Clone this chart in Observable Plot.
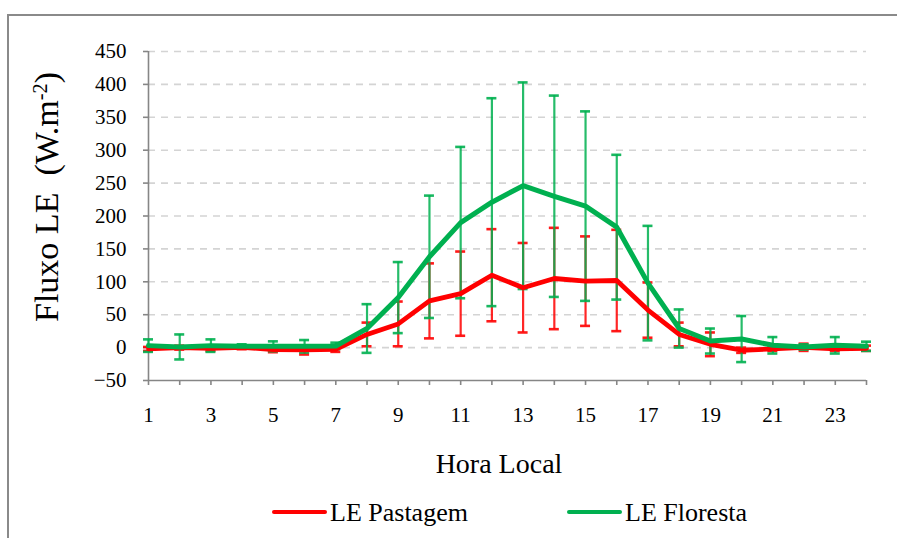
<!DOCTYPE html>
<html>
<head>
<meta charset="utf-8">
<script src="https://cdn.jsdelivr.net/npm/d3@7"></script>
<script src="https://cdn.jsdelivr.net/npm/@observablehq/plot@0.6"></script>
<style>
  html, body { margin: 0; padding: 0; background: #fff; }
  #wrap { position: relative; width: 897px; height: 538px; overflow: hidden; font-family: "Liberation Serif", "DejaVu Serif", serif; color: #000; }
  #wrap svg { position: absolute; left: 0; top: 0; }
  .border { position: absolute; left: 7px; top: 14px; width: 1000px; height: 1000px; border-left: 2px solid #8a8a8a; border-top: 2px solid #8a8a8a; }
  .ytitle { position: absolute; left: 47px; top: 197px; transform: translate(-50%, -50%) rotate(-90deg); white-space: nowrap; font-size: 34px; line-height: 1; }
  .ytitle sup { font-size: 0.6em; vertical-align: 0.55em; line-height: 0; }
  .xtitle { position: absolute; left: 499px; top: 449.6px; transform: translateX(-50%); white-space: nowrap; font-size: 28px; line-height: 1; }
  .leg-line { position: absolute; height: 4px; width: 55px; border-radius: 2px; }
  .leg-text { position: absolute; font-size: 26px; line-height: 1; white-space: nowrap; }
</style>
</head>
<body>
<div id="wrap"></div>
<script>
// ---- data ----
const hours = [1,2,3,4,5,6,7,8,9,10,11,12,13,14,15,16,17,18,19,20,21,22,23,24];
const pastagem    = [-2, 0, -1, 0.5, -3, -3.5, -2.5, 20, 36, 71, 82, 110, 91, 105, 101, 102, 57, 20, 5, -4, -2, 0.5, -2, -1];
const pastagemErr = [3, 3, 4, 3, 4, 7, 4, 18, 34, 57, 64, 70, 68, 77, 68, 77, 42, 18, 18, 4, 3, 5.5, 3, 4];
const floresta    = [3, 1, 3, 2, 2, 2, 2.5, 29, 76, 138, 190, 221, 246, 230, 215, 183, 98, 29, 10, 13, 3.5, 1, 3.5, 2];
const florestaErr = [9.5, 19, 9.5, 3, 7.5, 9.5, 5, 37, 54, 93, 115, 158, 157, 153, 144, 110, 87, 29, 19, 35, 12.5, 4, 12.5, 7];
const seriesNames = ["LE Pastagem", "LE Floresta"];
const seriesColors = ["#FF0000", "#00B050"];
const xTickLabels = hours.map(h => (h % 2 === 1 ? String(h) : ""));
const yTicks = [-50, 0, 50, 100, 150, 200, 250, 300, 350, 400, 450];
const xTitle = "Hora Local";

// ---- table ----
const rows = [];
hours.forEach((h, i) => {
  rows.push({series: seriesNames[0], hour: h, value: pastagem[i], err: pastagemErr[i]});
  rows.push({series: seriesNames[1], hour: h, value: floresta[i], err: florestaErr[i]});
});
const past = rows.filter(d => d.series === seriesNames[0]);
const flor = rows.filter(d => d.series === seriesNames[1]);

const cap = 0.16; // half-width of error-bar caps, in hours
function errMarks(data, color) {
  return [
    Plot.ruleX(data, {x: "hour", y1: d => d.value - d.err, y2: d => d.value + d.err, stroke: color, strokeWidth: 2.2, strokeOpacity: 0.85}),
    Plot.ruleY(data, {y: d => d.value + d.err, x1: d => d.hour - cap, x2: d => d.hour + cap, stroke: color, strokeWidth: 2.6, strokeOpacity: 0.9}),
    Plot.ruleY(data, {y: d => d.value - d.err, x1: d => d.hour - cap, x2: d => d.hour + cap, stroke: color, strokeWidth: 2.6, strokeOpacity: 0.9})
  ];
}

const axisColor = "#868686";
const chart = Plot.plot({
  width: 897,
  height: 538,
  marginLeft: 148,
  marginRight: 31,
  marginTop: 51,
  marginBottom: 158,
  style: {fontFamily: "'Liberation Serif', 'DejaVu Serif', serif", fontSize: "21px", color: "#000", background: "transparent", overflow: "visible"},
  x: {type: "linear", domain: [1, 24], label: null},
  y: {type: "linear", domain: [-50, 450], label: null},
  marks: [
    Plot.ruleY(yTicks.filter(v => v > -50), {stroke: "#d4d4d4", strokeWidth: 1.6, strokeDasharray: "7,6"}),
    Plot.ruleX([hours[0]], {stroke: axisColor, strokeWidth: 1.6}),
    Plot.ruleY([yTicks[0]], {stroke: axisColor, strokeWidth: 1.6}),
    Plot.axisY({ticks: yTicks, tickSize: 5, tickPadding: 17, stroke: axisColor, strokeWidth: 1.6, fill: "#000", label: null}),
    Plot.axisX({ticks: hours, tickFormat: d => xTickLabels[hours.indexOf(d)], tickSize: 5, tickPadding: 22, stroke: axisColor, strokeWidth: 1.6, fill: "#000", label: null}),
    ...errMarks(past, seriesColors[0]),
    ...errMarks(flor, seriesColors[1]),
    Plot.line(past, {x: "hour", y: "value", stroke: seriesColors[0], strokeWidth: 4.8, strokeLinejoin: "round", strokeLinecap: "round"}),
    Plot.line(flor, {x: "hour", y: "value", stroke: seriesColors[1], strokeWidth: 5, strokeLinejoin: "round", strokeLinecap: "round"})
  ]
});

const wrap = document.getElementById("wrap");
const border = document.createElement("div");
border.className = "border";
wrap.appendChild(border);
wrap.appendChild(chart);

const yt = document.createElement("div");
yt.className = "ytitle";
yt.innerHTML = "Fluxo LE&nbsp; (W.m<sup>-2</sup>)";
wrap.appendChild(yt);

const xt = document.createElement("div");
xt.className = "xtitle";
xt.textContent = xTitle;
wrap.appendChild(xt);

const legPos = [{line: 272, text: 330}, {line: 567, text: 625}];
seriesNames.forEach((name, i) => {
  const ln = document.createElement("div");
  ln.className = "leg-line";
  ln.style.left = legPos[i].line + "px";
  ln.style.top = "510px";
  ln.style.background = seriesColors[i];
  wrap.appendChild(ln);
  const tx = document.createElement("div");
  tx.className = "leg-text";
  tx.style.left = legPos[i].text + "px";
  tx.style.top = "500px";
  tx.textContent = name;
  wrap.appendChild(tx);
});
</script>
</body>
</html>
